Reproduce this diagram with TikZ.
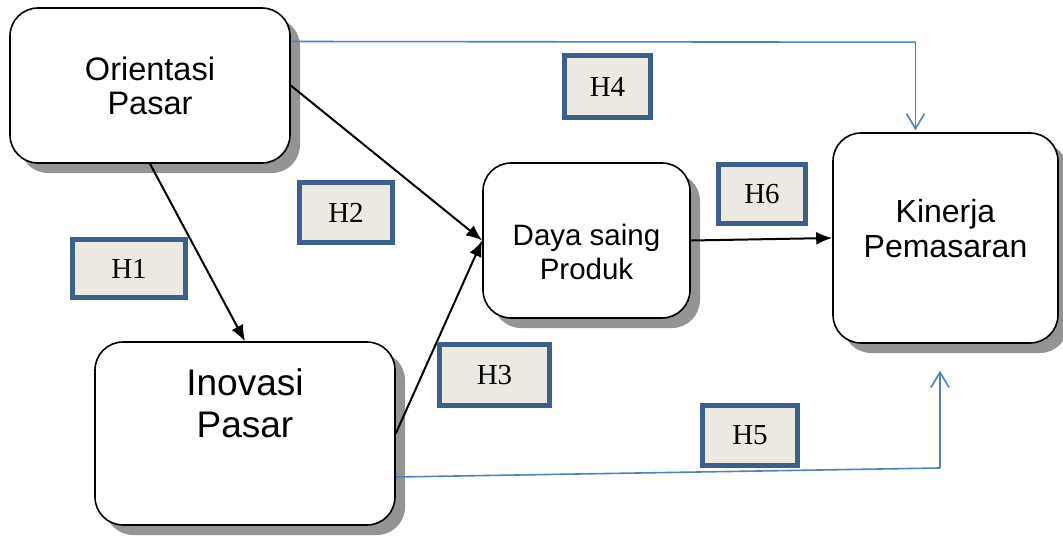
\documentclass[tikz,border=0pt]{standalone}
\usepackage{fontspec}
\setmainfont{Liberation Serif}
\newfontfamily\arialf{Liberation Sans}
\usetikzlibrary{arrows.meta,shadows,calc}
\definecolor{hfill}{HTML}{ECEAE0}
\definecolor{hborder}{HTML}{3C5F8C}
\definecolor{blueline}{HTML}{4F81BD}
\tikzset{
  varbox/.style={draw=black, line width=1.6pt, fill=white, rounded corners=28pt,
    align=center, inner sep=0pt, font=\arialf,
    drop shadow={shadow xshift=10pt, shadow yshift=-10pt, fill=black!42, opacity=1}},
  hbox/.style={draw=hborder, line width=5pt, fill=hfill, inner sep=0pt,
    font=\fontsize{29}{32}\selectfont},
  blk/.style={line width=2pt, -{Latex[length=16pt,width=13pt]}},
  blu/.style={draw=blueline, line width=1.6pt},
  blutip/.style={-{Straight Barb[length=15pt,width=18pt,line width=1.6pt]}}
}
\begin{document}
\begin{tikzpicture}[x=1pt,y=-1pt]
\useasboundingbox (0,0) rectangle (1063,541);
% variable boxes
\node[varbox, minimum width=280pt, minimum height=155pt,
  font=\arialf\fontsize{32.5}{34}\selectfont] (op) at (150,85.5) {Orientasi\\Pasar};
\node[varbox, minimum width=300pt, minimum height=183pt,
  font=\arialf\fontsize{37}{42}\selectfont] (ip) at (245,433.5) {Inovasi\\Pasar\\[18pt]};
\node[varbox, minimum width=207pt, minimum height=155pt,
  font=\arialf\fontsize{29.5}{34}\selectfont] (ds) at (586.5,240.5) {\rule{0pt}{44pt}Daya saing\\Produk};
\node[varbox, minimum width=225pt, minimum height=210pt,
  font=\arialf\fontsize{32}{35}\selectfont] (kp) at (945.5,238) {Kinerja\\Pemasaran\\[-15pt]};
% black connectors
\draw[blk] (op.south) -- (ip.north);
\draw[blk] (op.east) -- (ds.west);
\draw[blk] (ip.east) -- (ds.west);
\draw[blk] (ds.east) -- (kp.west);
% blue connectors
\coordinate (h4s) at ($(op.east)+(0,-44)$);
\coordinate (h4c) at ($(kp.north)+(-30,-90)$);
\coordinate (h4e) at ($(kp.north)+(-30,-2)$);
\draw[blu] (h4s) -- (h4c);
\draw[blu, blutip] (h4c) -- (h4e);
\coordinate (h5s) at ($(ip.east)+(0,43.5)$);
\coordinate (h5c) at (940,468);
\coordinate (h5e) at ($(kp.south)+(-5.5,27)$);
\draw[blu] (h5s) -- (h5c);
\draw[blu, blutip] (h5c) -- (h5e);
% hypothesis labels
\node[hbox, minimum width=113pt, minimum height=58pt] (h1) at (129,268.5) {H1};
\node[hbox, minimum width=93pt, minimum height=60pt] (h2) at (346,212.5) {H2};
\node[hbox, minimum width=110pt, minimum height=61pt] (h3) at (494.5,375) {H3};
\node[hbox, minimum width=86pt, minimum height=62pt] (h4) at (607.5,86.5) {H4};
\node[hbox, minimum width=95pt, minimum height=60pt] (h5) at (750,435.5) {H5};
\node[hbox, minimum width=87pt, minimum height=59pt] (h6) at (762,194) {H6};
\end{tikzpicture}
\end{document}
